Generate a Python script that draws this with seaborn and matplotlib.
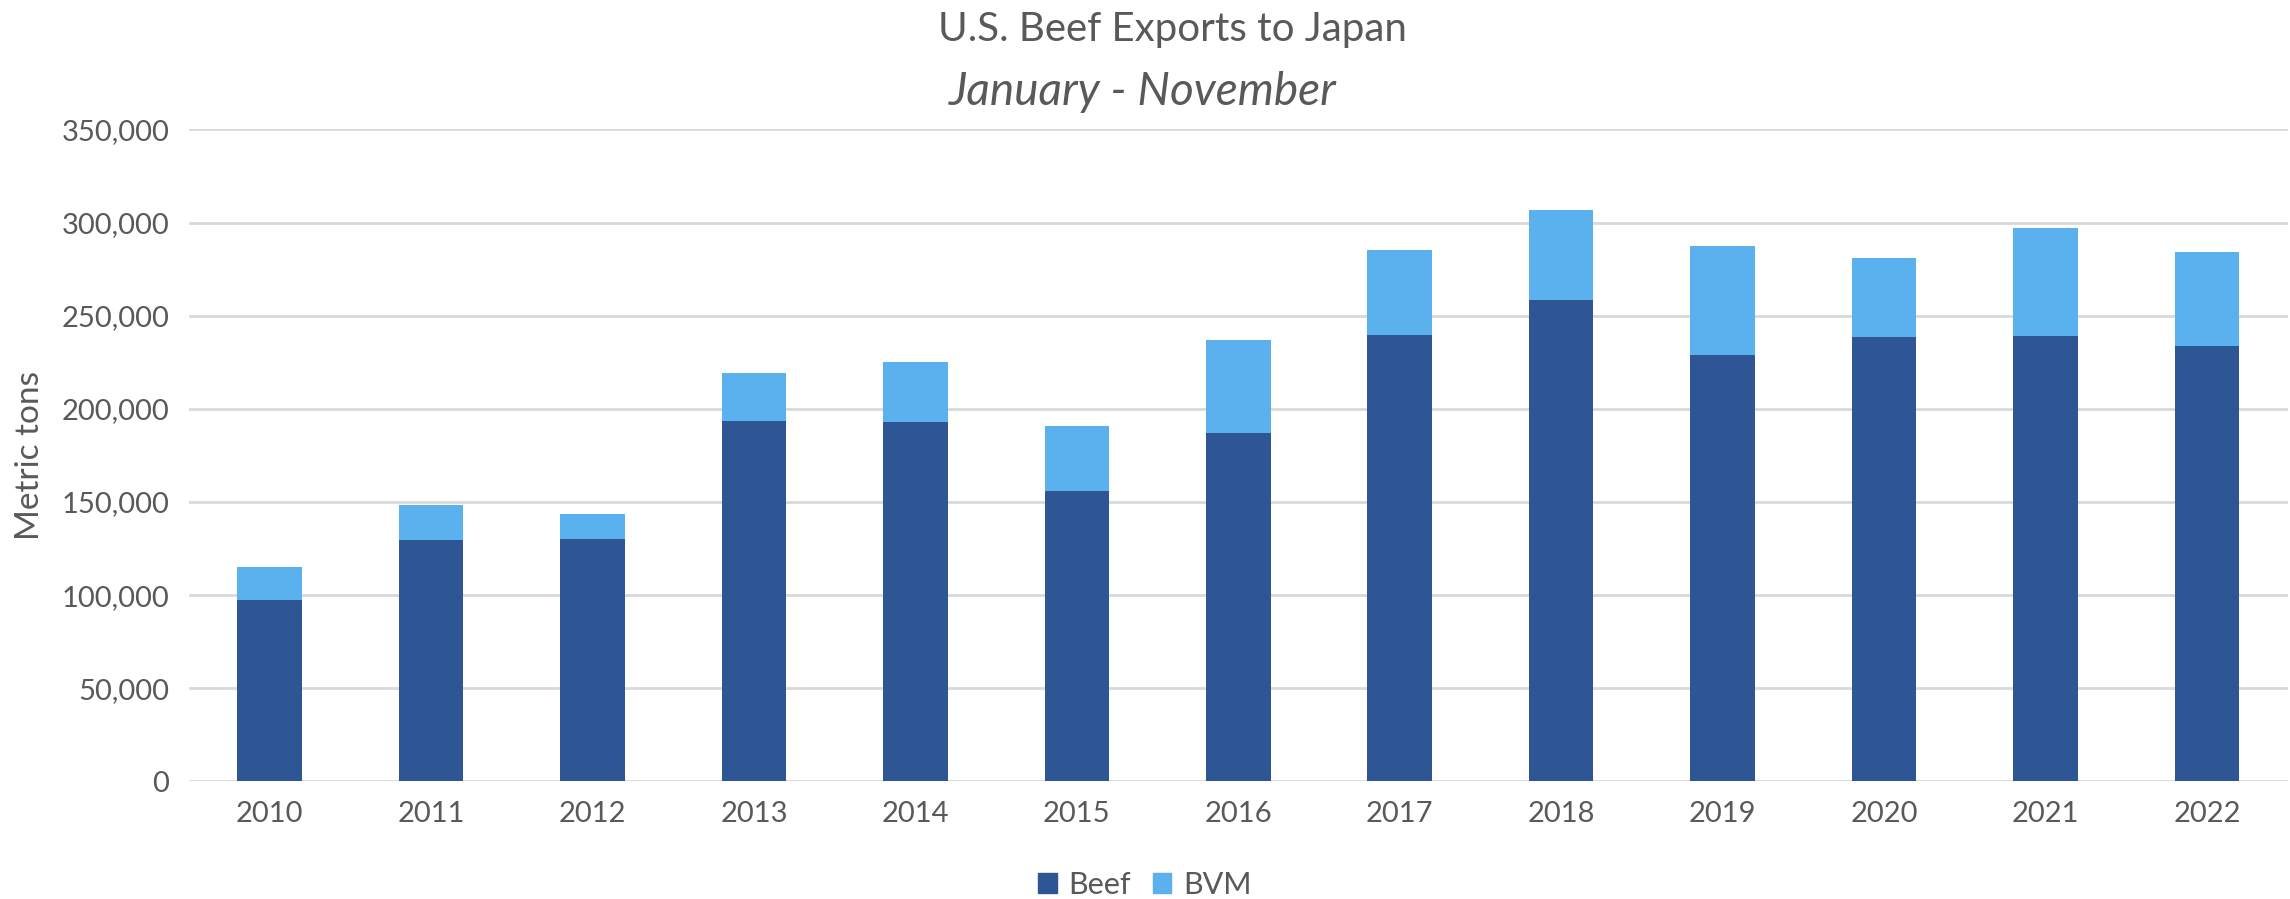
import pandas as pd
import seaborn as sns
import matplotlib.pyplot as plt
from matplotlib.patches import Patch
from matplotlib.ticker import FuncFormatter

# values (metric tons)
years = ["2010", "2011", "2012", "2013", "2014", "2015", "2016",
         "2017", "2018", "2019", "2020", "2021", "2022"]
beef = [97600, 129400, 129900, 193700, 193200, 156000, 187100,
        239700, 258400, 228800, 238500, 239000, 233500]
bvm = [17500, 18800, 13900, 25500, 32000, 34700, 50000,
       45700, 48300, 58400, 42600, 58200, 50800]

beef_color = "#2E5594"
bvm_color = "#5AB1EE"
text_color = "#595959"

sns.set_style("white")
plt.rcParams['font.family'] = ['Lato', 'DejaVu Sans']

data = pd.DataFrame({"year": years, "Beef": beef, "BVM": bvm})
data["total"] = data["Beef"] + data["BVM"]

fig = plt.figure(figsize=(22.9, 8.99), dpi=100)
ax = fig.add_axes([0.0825, 0.1308, 0.9165, 0.7252])

# total bar first (BVM colour), then beef on top of it
sns.barplot(data=data, x="year", y="total", color=bvm_color, width=0.4,
            saturation=1, linewidth=0, ax=ax, zorder=3)
sns.barplot(data=data, x="year", y="Beef", color=beef_color, width=0.4,
            saturation=1, linewidth=0, ax=ax, zorder=4)

ax.set_xlim(-0.5, len(years) - 0.5)
ax.set_ylim(0, 350000)
ax.set_yticks(range(0, 350001, 50000))
ax.yaxis.set_major_formatter(FuncFormatter(lambda v, p: f"{int(v):,}"))
ax.grid(axis="y", color="#D9D9D9", linewidth=2, zorder=0)
ax.set_axisbelow(True)
sns.despine(ax=ax, left=True, bottom=True)
ax.tick_params(axis="both", length=0, labelsize=21, colors=text_color)
ax.tick_params(axis="x", pad=14)
ax.tick_params(axis="y", pad=14)
ax.set_xlabel("")
ax.set_ylabel("Metric tons", fontsize=24, color=text_color, labelpad=12)

fig.text(0.512, 0.967, "U.S. Beef Exports to Japan", ha="center", va="center",
         fontsize=29, color=text_color)
fig.text(0.499, 0.898, "January - November", ha="center", va="center",
         fontsize=33, color=text_color, style="italic")

handles = [Patch(color=beef_color, label="Beef"), Patch(color=bvm_color, label="BVM")]
fig.legend(handles=handles, loc="center", bbox_to_anchor=(0.5, 0.016), ncol=2,
           frameon=False, fontsize=22, labelcolor=text_color,
           handlelength=0.6, handleheight=0.6, handletextpad=0.4, columnspacing=0.7)

plt.savefig("out.png", dpi=100)
